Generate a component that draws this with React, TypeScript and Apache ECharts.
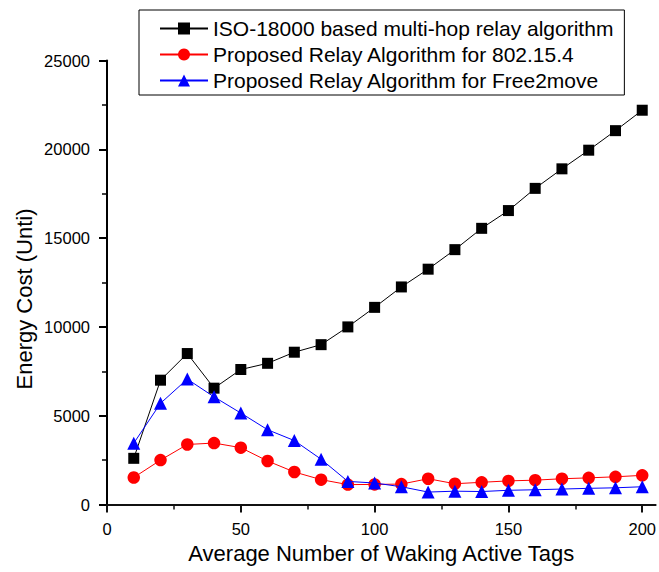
import React, { useEffect, useRef } from "react";
import * as echarts from "echarts";

const xValues = [10, 20, 30, 40, 50, 60, 70, 80, 90, 100, 110, 120, 130, 140, 150, 160, 170, 180, 190, 200];
const isoValues = [2600, 7000, 8500, 6550, 7600, 7950, 8575, 9000, 10000, 11100, 12250, 13250, 14350, 15550, 16550, 17800, 18900, 19950, 21050, 22200];
const zigbeeValues = [1520, 2500, 3380, 3460, 3200, 2450, 1830, 1400, 1120, 1130, 1150, 1450, 1170, 1250, 1330, 1370, 1450, 1500, 1560, 1640];
const free2moveValues = [3450, 5700, 7060, 6060, 5150, 4210, 3600, 2550, 1300, 1210, 1000, 700, 750, 730, 800, 830, 870, 910, 940, 1000];
const seriesNames = [
  "ISO-18000 based multi-hop relay algorithm",
  "Proposed Relay Algorithm for 802.15.4",
  "Proposed Relay Algorithm for Free2move",
];
const xMajorTicks = [0, 50, 100, 150, 200];
const xMinorTicks = [25, 75, 125, 175];
const xTitle = "Average Number of Waking Active Tags";
const yTitle = "Energy Cost (Unti)";

const FONT = "'Liberation Sans', Arial, sans-serif";

export default function App() {
  const ref = useRef<HTMLDivElement>(null);
  useEffect(() => {
    if (!ref.current) return;
    const chart = echarts.init(ref.current, null, { renderer: "svg" });
    const pair = (vals: number[]) => xValues.map((x, i) => [x, vals[i]]);
    chart.setOption({
      animation: false,
      backgroundColor: "#fff",
      textStyle: { fontFamily: FONT },
      grid: { left: 107, right: 1, top: 60.5, bottom: 67.5 },
      legend: {
        orient: "vertical",
        left: 139,
        top: 10,
        padding: [8, 11, 4, 20],
        borderColor: "#000",
        borderWidth: 1,
        itemWidth: 48,
        itemHeight: 15,
        itemGap: 5,
        textStyle: { fontSize: 21, color: "#000", fontFamily: FONT },
        data: seriesNames,
      },
      xAxis: [
        {
          type: "value",
          min: 0,
          max: 205,
          interval: 50,
          position: "bottom",
          axisLine: { show: true, lineStyle: { color: "#111111", width: 2 } },
          splitLine: { show: false },
          axisTick: { show: true, length: 8, customValues: xMajorTicks, lineStyle: { color: "#111111", width: 2 } },
          axisLabel: {
            show: true,
            customValues: xMajorTicks,
            margin: 16,
            fontSize: 16.5,
            color: "#000",
            fontFamily: FONT,
            formatter: (v: number) => String(v),
          },
          name: xTitle,
          nameLocation: "middle",
          nameGap: 38,
          nameTextStyle: { fontSize: 22, color: "#000", fontFamily: FONT },
        },
        {
          type: "value",
          min: 0,
          max: 205,
          interval: 50,
          position: "bottom",
          axisLine: { show: false },
          splitLine: { show: false },
          axisTick: { show: true, length: 5, customValues: xMinorTicks, lineStyle: { color: "#111111", width: 1.5 } },
          axisLabel: { show: false },
        },
      ],
      yAxis: {
        type: "value",
        min: 0,
        max: 25000,
        interval: 5000,
        axisLine: { show: true, lineStyle: { color: "#000", width: 2 } },
        splitLine: { show: false },
        axisTick: { show: true, length: 8, lineStyle: { color: "#000", width: 2 } },
        minorTick: { show: true, splitNumber: 2, length: 5, lineStyle: { color: "#000", width: 1.5 } },
        minorSplitLine: { show: false },
        axisLabel: {
          margin: 17,
          fontSize: 16.5,
          color: "#000",
          fontFamily: FONT,
          formatter: (v: number) => String(v),
        },
      },
      graphic: [
        {
          type: "text",
          x: 24,
          y: 299,
          rotation: Math.PI / 2,
          style: {
            text: yTitle,
            fontSize: 22,
            fontFamily: FONT,
            fill: "#000",
            align: "center",
            verticalAlign: "middle",
          },
        },
      ],
      series: [
        {
          name: seriesNames[0],
          type: "line",
          xAxisIndex: 0,
          data: pair(isoValues),
          symbol: "rect",
          symbolSize: 11,
          itemStyle: { color: "#000" },
          lineStyle: { color: "#000", width: 1 },
          z: 2,
        },
        {
          name: seriesNames[1],
          type: "line",
          xAxisIndex: 0,
          data: pair(zigbeeValues),
          symbol: "circle",
          symbolSize: 12.5,
          itemStyle: { color: "#ff0000" },
          lineStyle: { color: "#ff0000", width: 1 },
          z: 3,
        },
        {
          name: seriesNames[2],
          type: "line",
          xAxisIndex: 0,
          data: pair(free2moveValues),
          symbol: "triangle",
          symbolSize: 13,
          itemStyle: { color: "#0000ff" },
          lineStyle: { color: "#0000ff", width: 1 },
          z: 4,
        },
      ],
    });
    return () => chart.dispose();
  }, []);
  return (
    <div
      ref={ref}
      style={{ position: "fixed", left: 0, top: 0, width: 659, height: 572, background: "#fff" }}
    />
  );
}
